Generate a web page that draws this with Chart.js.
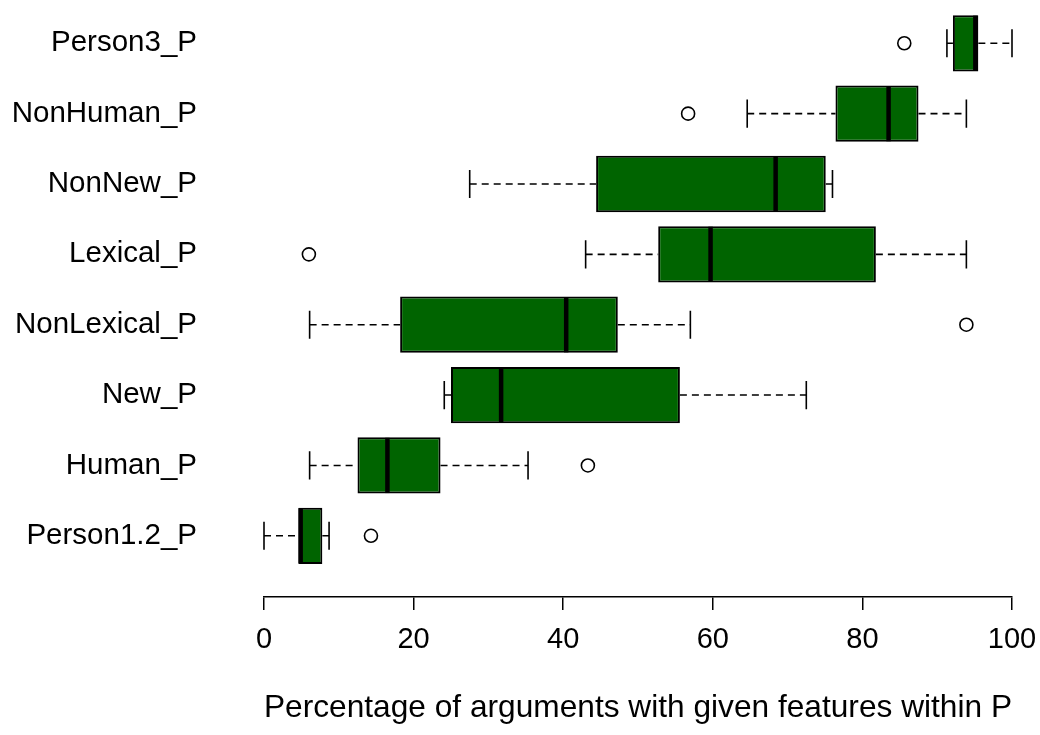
<!DOCTYPE html>
<html>
<head>
<meta charset="utf-8">
<script src="https://cdn.jsdelivr.net/npm/chart.js@4"></script>
<style>
  html, body { margin: 0; padding: 0; background: #ffffff; }
  #wrap { width: 1040px; height: 735px; }
</style>
</head>
<body>
<div id="wrap"><canvas id="c" width="1040" height="735"></canvas></div>
<script>
// Categories, bottom (position 1) to top (position 8)
const categories = ['Person1.2_P','Human_P','New_P','NonLexical_P','Lexical_P','NonNew_P','NonHuman_P','Person3_P'];
const whiskerLow  = [0.0,  6.1, 24.1,  6.1, 43.0, 27.5, 64.6, 91.3];
const q1          = [4.6, 12.5, 25.0, 18.2, 52.7, 44.4, 76.4, 92.1];
const median      = [4.9, 16.5, 31.7, 40.4, 59.7, 68.4, 83.5, 95.1];
const q3          = [7.8, 23.6, 55.6, 47.3, 81.8, 75.1, 87.5, 95.5];
const whiskerHigh = [8.7, 35.3, 72.5, 57.0, 93.9, 76.0, 93.9, 100.0];
const outliers    = [[14.3], [43.3], [], [93.9], [6.0], [], [56.7], [85.6]];
const xTicks = [0, 20, 40, 60, 80, 100];
const xTitle = 'Percentage of arguments with given features within P';

const FONT = "'Liberation Sans', Arial, sans-serif";
const positions = categories.map((_, i) => i + 1);

const boxData = positions.map((p, i) => ({ y: p, x: [q1[i], q3[i]] }));
const outlierData = [];
outliers.forEach((arr, i) => arr.forEach(v => outlierData.push({ x: v, y: positions[i] })));

const boxPlugin = {
  id: 'boxParts',
  beforeDatasetsDraw(chart) {
    const ctx = chart.ctx, xs = chart.scales.x, ys = chart.scales.y;
    const unit = Math.abs(ys.getPixelForValue(1) - ys.getPixelForValue(2));
    const capHalf = unit * 0.8 * 0.25;
    ctx.save();
    ctx.strokeStyle = '#000';
    ctx.lineWidth = 1.6;
    positions.forEach((p, i) => {
      const y = ys.getPixelForValue(p);
      ctx.setLineDash([7, 5]);
      ctx.beginPath();
      ctx.moveTo(xs.getPixelForValue(whiskerLow[i]), y);
      ctx.lineTo(xs.getPixelForValue(q1[i]), y);
      ctx.moveTo(xs.getPixelForValue(q3[i]), y);
      ctx.lineTo(xs.getPixelForValue(whiskerHigh[i]), y);
      ctx.stroke();
      ctx.setLineDash([]);
      ctx.beginPath();
      const xl = xs.getPixelForValue(whiskerLow[i]);
      const xh = xs.getPixelForValue(whiskerHigh[i]);
      ctx.moveTo(xl, y - capHalf); ctx.lineTo(xl, y + capHalf);
      ctx.moveTo(xh, y - capHalf); ctx.lineTo(xh, y + capHalf);
      ctx.stroke();
    });
    ctx.restore();
  },
  afterDatasetsDraw(chart) {
    const ctx = chart.ctx, xs = chart.scales.x, ys = chart.scales.y;
    const unit = Math.abs(ys.getPixelForValue(1) - ys.getPixelForValue(2));
    const half = unit * 0.8 / 2;
    ctx.save();
    ctx.strokeStyle = '#000';
    ctx.lineWidth = 4.5;
    ctx.lineCap = 'butt';
    positions.forEach((p, i) => {
      const y = ys.getPixelForValue(p);
      const xm = xs.getPixelForValue(median[i]);
      ctx.beginPath();
      ctx.moveTo(xm, y - half + 0.5);
      ctx.lineTo(xm, y + half - 0.5);
      ctx.stroke();
    });
    ctx.restore();
  }
};

new Chart(document.getElementById('c'), {
  type: 'bar',
  data: {
    datasets: [
      {
        type: 'bar',
        label: 'box',
        data: boxData,
        backgroundColor: '#006400',
        borderColor: '#000000',
        borderWidth: 2,
        borderSkipped: false,
        barPercentage: 0.8,
        categoryPercentage: 1.0,
        grouped: false
      },
      {
        type: 'scatter',
        label: 'outliers',
        data: outlierData,
        pointStyle: 'circle',
        pointRadius: 6.5,
        pointBackgroundColor: 'rgba(255,255,255,0)',
        pointBorderColor: '#000000',
        pointBorderWidth: 1.6,
        showLine: false
      }
    ]
  },
  options: {
    indexAxis: 'y',
    responsive: false,
    animation: false,
    events: [],
    layout: { padding: { left: 0, right: 28, top: 0, bottom: 0 } },
    plugins: { legend: { display: false }, tooltip: { enabled: false } },
    scales: {
      x: {
        type: 'linear',
        position: 'bottom',
        min: 0,
        max: 100,
        afterBuildTicks(scale) { scale.ticks = xTicks.map(v => ({ value: v })); },
        grid: { display: true, drawOnChartArea: false, drawTicks: true, tickLength: 13, color: '#000', lineWidth: 1.5 },
        border: { display: true, color: '#000', width: 1.5 },
        ticks: { color: '#000', font: { family: FONT, size: 29 }, padding: 13, maxRotation: 0 },
        title: { display: true, text: xTitle, color: '#000', font: { family: FONT, size: 31.7 }, padding: { top: 30, bottom: 8 } },
        afterFit(scale) { scale.height = 138; scale.paddingLeft = 0; scale.paddingRight = 0; }
      },
      y: {
        type: 'linear',
        position: 'left',
        offset: false,
        grace: 0,
        min: 0.13,
        max: 8.5,
        afterBuildTicks(scale) { scale.ticks = positions.map(v => ({ value: v })); },
        ticks: {
          color: '#000',
          font: { family: FONT, size: 29.5 },
          padding: 67,
          callback: (v) => categories[Math.round(v) - 1]
        },
        grid: { display: false, drawTicks: false },
        border: { display: false },
        afterFit(scale) { scale.width = 264; scale.paddingTop = 0; scale.paddingBottom = 0; }
      }
    }
  },
  plugins: [boxPlugin]
});
</script>
</body>
</html>
